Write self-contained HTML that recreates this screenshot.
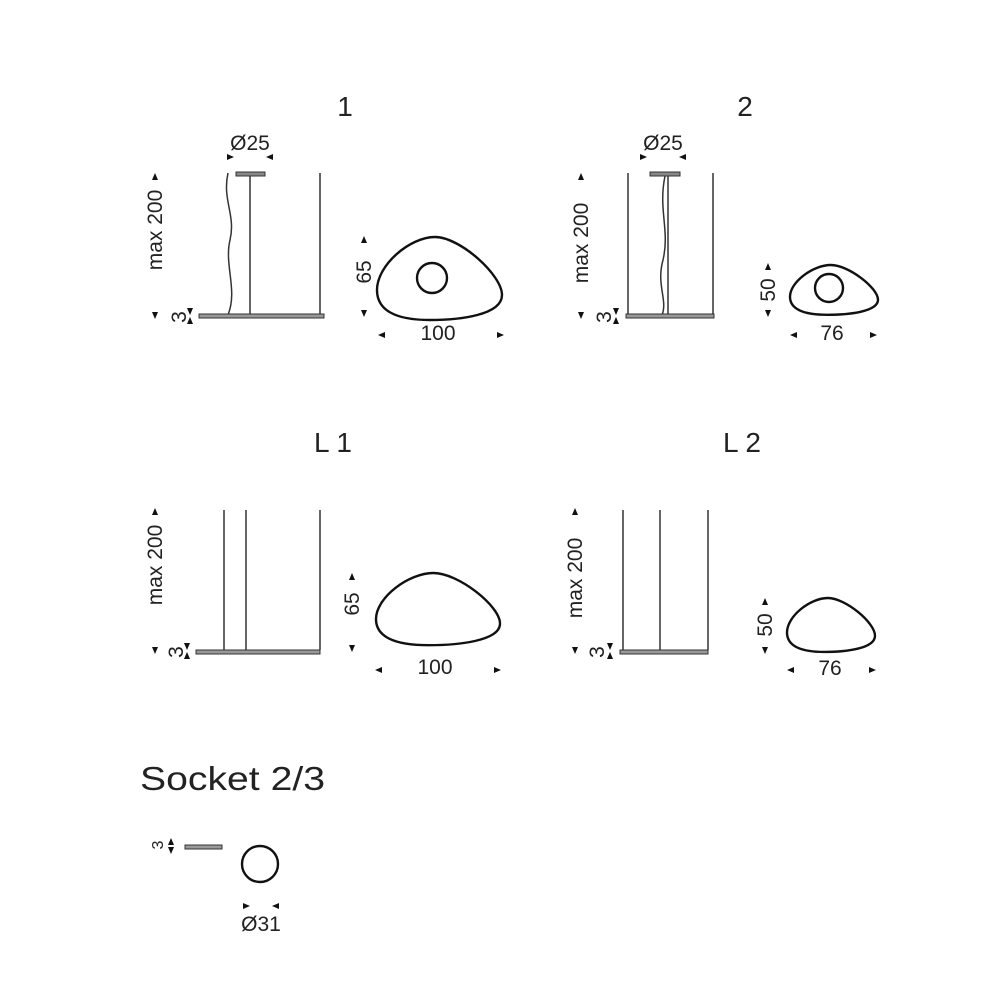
<!DOCTYPE html>
<html><head><meta charset="utf-8"><style>html,body{margin:0;background:#fff}svg{display:block}text{font-family:"Liberation Sans",sans-serif;fill:#222}</style></head>
<body>
<svg width="1000" height="1000" viewBox="0 0 1000 1000" xmlns="http://www.w3.org/2000/svg">
<defs>
<path id="stone" d="M0,53 C0,28 33,0 58,0 C83,0 125,38 125,58 C125,78 83,83 53,83 C18,83 0,73 0,53Z" fill="none" stroke="#111" stroke-width="2.4" vector-effect="non-scaling-stroke"/>
<path id="up" d="M0,-4 L3,3 L-3,3Z" fill="#111"/>
<path id="dn" d="M0,4 L3,-3 L-3,-3Z" fill="#111"/>
<path id="rt" d="M4,0 L-3,3 L-3,-3Z" fill="#111"/>
<path id="lt" d="M-4,0 L3,3 L3,-3Z" fill="#111"/>
</defs>
<g font-size="28">
<text x="345" y="116" text-anchor="middle">1</text>
<text x="745" y="116" text-anchor="middle">2</text>
<text x="333" y="452" text-anchor="middle">L 1</text>
<text x="742" y="452" text-anchor="middle">L 2</text>
<text x="140" y="790" font-size="33" textLength="185" lengthAdjust="spacingAndGlyphs">Socket 2/3</text>
</g>
<g font-size="21">
<!-- 1 -->
<text x="250" y="150" text-anchor="middle">Ø25</text>
<use href="#rt" x="230" y="157"/><use href="#lt" x="270" y="157"/>
<text transform="translate(162,230) rotate(-90)" text-anchor="middle">max 200</text>
<use href="#up" x="155" y="177"/><use href="#dn" x="155" y="315"/>
<text transform="translate(186,317) rotate(-90)" text-anchor="middle">3</text>
<use href="#dn" x="190" y="311"/><use href="#up" x="190" y="321"/>
<path d="M228,173 C222,200 236,215 230,240 C224,265 238,290 228,315" fill="none" stroke="#333" stroke-width="1.5"/>
<rect x="236" y="172" width="29" height="4" fill="#888" stroke="#333"/>
<line x1="250" y1="176" x2="250" y2="315" stroke="#333" stroke-width="1.5"/>
<line x1="320" y1="173" x2="320" y2="315" stroke="#333" stroke-width="1.5"/>
<rect x="199" y="314" width="125" height="4" fill="#999" stroke="#333"/>
<use href="#stone" transform="translate(377,237)"/>
<circle cx="432" cy="278" r="15" fill="none" stroke="#111" stroke-width="2.4"/>
<text transform="translate(371,272) rotate(-90)" text-anchor="middle">65</text>
<use href="#up" x="364" y="240"/><use href="#dn" x="364" y="313"/>
<text x="438" y="340" text-anchor="middle">100</text>
<use href="#lt" x="382" y="335"/><use href="#rt" x="500" y="335"/>
<!-- 2 -->
<text x="663" y="150" text-anchor="middle">Ø25</text>
<use href="#rt" x="643" y="157"/><use href="#lt" x="683" y="157"/>
<text transform="translate(588,243) rotate(-90)" text-anchor="middle">max 200</text>
<use href="#up" x="581" y="177"/><use href="#dn" x="581" y="315"/>
<text transform="translate(611,317) rotate(-90)" text-anchor="middle">3</text>
<use href="#dn" x="616" y="311"/><use href="#up" x="616" y="321"/>
<line x1="628" y1="173" x2="628" y2="315" stroke="#333" stroke-width="1.5"/>
<rect x="650" y="172" width="30" height="4" fill="#888" stroke="#333"/>
<path d="M665,176 C658,210 670,230 663,260 C656,285 668,300 662,315" fill="none" stroke="#333" stroke-width="1.5"/>
<line x1="668" y1="176" x2="668" y2="315" stroke="#333" stroke-width="1.5"/>
<line x1="713" y1="173" x2="713" y2="315" stroke="#333" stroke-width="1.5"/>
<rect x="626" y="314" width="88" height="4" fill="#999" stroke="#333"/>
<use href="#stone" transform="translate(790,265) scale(0.704,0.6)"/>
<circle cx="829" cy="288" r="14" fill="none" stroke="#111" stroke-width="2.4"/>
<text transform="translate(775,290) rotate(-90)" text-anchor="middle">50</text>
<use href="#up" x="768" y="267"/><use href="#dn" x="768" y="313"/>
<text x="832" y="340" text-anchor="middle">76</text>
<use href="#lt" x="794" y="335"/><use href="#rt" x="873" y="335"/>
<!-- L1 -->
<text transform="translate(162,565) rotate(-90)" text-anchor="middle">max 200</text>
<use href="#up" x="155" y="512"/><use href="#dn" x="155" y="650"/>
<text transform="translate(183,652) rotate(-90)" text-anchor="middle">3</text>
<use href="#dn" x="187" y="646"/><use href="#up" x="187" y="656"/>
<line x1="224" y1="510" x2="224" y2="650" stroke="#333" stroke-width="1.5"/>
<line x1="246" y1="510" x2="246" y2="650" stroke="#333" stroke-width="1.5"/>
<line x1="320" y1="510" x2="320" y2="650" stroke="#333" stroke-width="1.5"/>
<rect x="196" y="650" width="124" height="4" fill="#999" stroke="#333"/>
<use href="#stone" transform="translate(376,573) scale(0.992,0.87)"/>
<text transform="translate(359,604) rotate(-90)" text-anchor="middle">65</text>
<use href="#up" x="352" y="577"/><use href="#dn" x="352" y="648"/>
<text x="435" y="674" text-anchor="middle">100</text>
<use href="#lt" x="379" y="670"/><use href="#rt" x="497" y="670"/>
<!-- L2 -->
<text transform="translate(582,578) rotate(-90)" text-anchor="middle">max 200</text>
<use href="#up" x="575" y="512"/><use href="#dn" x="575" y="650"/>
<text transform="translate(604,652) rotate(-90)" text-anchor="middle">3</text>
<use href="#dn" x="610" y="646"/><use href="#up" x="610" y="656"/>
<line x1="623" y1="510" x2="623" y2="650" stroke="#333" stroke-width="1.5"/>
<line x1="660" y1="510" x2="660" y2="650" stroke="#333" stroke-width="1.5"/>
<line x1="708" y1="510" x2="708" y2="650" stroke="#333" stroke-width="1.5"/>
<rect x="620" y="650" width="88" height="4" fill="#999" stroke="#333"/>
<use href="#stone" transform="translate(787,598) scale(0.704,0.65)"/>
<text transform="translate(772,625) rotate(-90)" text-anchor="middle">50</text>
<use href="#up" x="765" y="602"/><use href="#dn" x="765" y="650"/>
<text x="830" y="675" text-anchor="middle">76</text>
<use href="#lt" x="791" y="670"/><use href="#rt" x="872" y="670"/>
<!-- socket -->
<text transform="translate(163,845) rotate(-90)" text-anchor="middle" font-size="16">3</text>
<use href="#up" x="171" y="842"/><use href="#dn" x="171" y="850"/>
<rect x="185" y="845" width="37" height="4" fill="#999" stroke="#333"/>
<circle cx="260" cy="864" r="18" fill="none" stroke="#111" stroke-width="2.4"/>
<use href="#rt" x="246" y="906"/><use href="#lt" x="276" y="906"/>
<text x="261" y="931" text-anchor="middle">Ø31</text>
</g>
</svg>
</body></html>
